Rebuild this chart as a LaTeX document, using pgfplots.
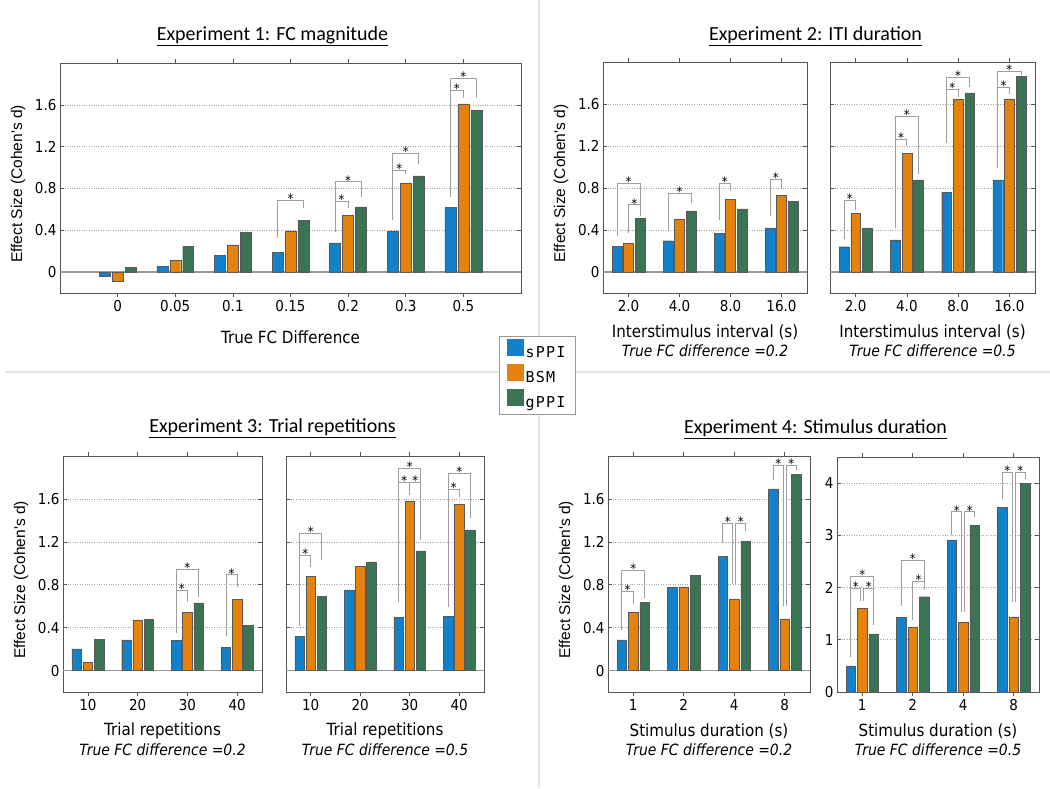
\documentclass[border=0pt]{standalone}
\usepackage{fontspec}
\usepackage{pgfplots}
\pgfplotsset{compat=1.18}
\newfontfamily\tickfont[FakeStretch=0.9]{DejaVu Sans}
\newfontfamily\titlefont{Carlito}
\newfontfamily\ylabfont{Liberation Sans}
\newfontfamily\legfont[LetterSpace=8]{DejaVu Sans Mono}
\definecolor{cB}{HTML}{1380CB}
\definecolor{cO}{HTML}{E5820E}
\definecolor{cG}{HTML}{3B7355}
\definecolor{frm}{HTML}{555555}
\tikzset{
  brk/.style={draw=gray!75, line width=0.8pt},
  star/.style={anchor=base, yshift=-3.2pt, inner sep=0pt, font={\tickfont\fontsize{13}{13}\selectfont}},
  subt/.style={anchor=center, font={\tickfont\fontsize{15.5}{18}\selectfont\itshape}},
}
\newcommand{\br}[5]{\draw[brk] (axis cs:#1,#2) -- (axis cs:#1,#5) -- node[star]{*} (axis cs:#3,#5) -- (axis cs:#3,#4);}
\newcommand{\subt}[1]{\node[subt] at (axis description cs:0.5,0) [yshift=-58pt] {True FC difference =#1};}
\pgfplotsset{
  panel/.style={
    scale only axis, clip=false, anchor=south west,
    ybar, bar width=0.19,
    axis line style={frm, line width=0.7pt},
    every tick/.style={frm, line width=0.6pt},
    major tick length=4pt,
    ymajorgrids, major grid style={dotted, gray!70, line width=0.6pt},
    ymin=-0.2, ymax=2, ytick={0,0.4,0.8,1.2,1.6},
    xmin=0.5, xmax=4.5, xtick={1,2,3,4},
    ticklabel style={font={\tickfont\fontsize{15}{17}\selectfont}},
    /pgf/number format/assume math mode=true,
    extra y ticks={0}, extra y tick labels={},
    extra y tick style={grid=major, major grid style={solid, gray!80, line width=1.3pt}, major tick length=0pt},
    every axis x label/.style={at={(axis description cs:0.5,0)}, anchor=center, yshift=-39pt, font={\tickfont\fontsize{16.8}{20}\selectfont}},
    every axis y label/.style={at={(axis description cs:0,0.5)}, anchor=center, xshift=-42pt, yshift=-6pt, rotate=90, font={\ylabfont\fontsize{15.5}{18}\selectfont}},
  },
  sppi/.style={fill=cB, draw=black!65, line width=0.4pt, bar shift=-0.225},
  bsm/.style={fill=cO, draw=black!65, line width=0.4pt, bar shift=0},
  gppi/.style={fill=cG, draw=black!65, line width=0.4pt, bar shift=0.225},
}
\begin{document}
\begin{tikzpicture}
\path[use as bounding box] (0pt,0pt) rectangle (1050pt,-788pt);
\draw[gray!20, line width=1.5pt] (5pt,-372pt) -- (1050pt,-372pt);
\draw[gray!20, line width=1.5pt] (539pt,0pt) -- (539pt,-788pt);
\node[anchor=base, font={\titlefont\fontsize{20}{24}\selectfont}] at (272.5pt,-40.7pt) {\underline{Experiment 1: FC magnitude}};
\node[anchor=base, font={\titlefont\fontsize{20}{24}\selectfont}] at (815.5pt,-40.5pt) {\underline{Experiment 2: ITI duration}};
\node[anchor=base, font={\titlefont\fontsize{20}{24}\selectfont}] at (272.5pt,-432.7pt) {\underline{Experiment 3: Trial repetitions}};
\node[anchor=base, font={\titlefont\fontsize{20}{24}\selectfont}] at (815.5pt,-433.3pt) {\underline{Experiment 4: Stimulus duration}};

% Experiment 1
\begin{axis}[panel, at={(60pt,-293pt)}, width=461pt, height=230pt,
  xmin=0, xmax=8, xtick={1,2,3,4,5,6,7}, xticklabels={0,0.05,0.1,0.15,0.2,0.3,0.5},
  xlabel={True FC Difference}, xlabel style={yshift=-5pt}, ylabel={Effect Size (Cohen's d)},
  legend style={at={(axis description cs:0.952,-0.187)}, anchor=north west, draw=gray!80, fill=white,
    font={\legfont\fontsize{15}{17}\selectfont}, inner xsep=8pt, inner ysep=3pt, row sep=3pt,
    /tikz/every even column/.append style={column sep=1pt}},
  legend cell align=left,
  legend image code/.code={\fill[#1,draw=none] (0pt,-3pt) rectangle (16.6pt,13.6pt);}]
\addplot[sppi] coordinates {(1,-0.035) (2,0.054) (3,0.159) (4,0.19) (5,0.279) (6,0.394) (7,0.619)};
\addplot[bsm] coordinates {(1,-0.083) (2,0.111) (3,0.26) (4,0.394) (5,0.54) (6,0.854) (7,1.61)};
\addplot[gppi] coordinates {(1,0.044) (2,0.244) (3,0.381) (4,0.498) (5,0.625) (6,0.92) (7,1.546)};
\legend{sPPI,BSM,gPPI}
\br{3.775}{0.324}{4.225}{0.61}{0.689}
\br{4.775}{0.387}{5.0}{0.61}{0.68}
\br{4.775}{0.387}{5.225}{0.72}{0.863}
\br{5.775}{0.5}{6.0}{0.94}{0.975}
\br{5.775}{0.5}{6.225}{1.03}{1.133}
\br{6.775}{0.72}{7.0}{1.67}{1.737}
\br{6.775}{0.72}{7.225}{1.67}{1.854}
\end{axis}

% Experiment 2 left
\begin{axis}[panel, at={(603pt,-293pt)}, width=204pt, height=231pt,
  xticklabels={2.0,4.0,8.0,16.0}, xlabel={Interstimulus interval (s)}, ylabel={Effect Size (Cohen's d)}]
\addplot[sppi] coordinates {(1,0.244) (2,0.298) (3,0.365) (4,0.421)};
\addplot[bsm] coordinates {(1,0.276) (2,0.507) (3,0.694) (4,0.729)};
\addplot[gppi] coordinates {(1,0.514) (2,0.583) (3,0.602) (4,0.672)};
\br{0.775}{0.34}{1.225}{0.53}{0.847}
\br{1.0}{0.37}{1.225}{0.62}{0.64}
\br{1.775}{0.40}{2.225}{0.66}{0.745}
\br{2.775}{0.50}{3.0}{0.77}{0.847}
\br{3.775}{0.53}{4.0}{0.8}{0.88}
\subt{0.2}
\end{axis}

% Experiment 2 right
\begin{axis}[panel, at={(830pt,-293pt)}, width=205pt, height=231pt,
  xticklabels={2.0,4.0,8.0,16.0}, yticklabels={}, xlabel={Interstimulus interval (s)}]
\addplot[sppi] coordinates {(1,0.241) (2,0.307) (3,0.757) (4,0.878)};
\addplot[bsm] coordinates {(1,0.558) (2,1.128) (3,1.645) (4,1.65)};
\addplot[gppi] coordinates {(1,0.421) (2,0.878) (3,1.705) (4,1.866)};
\br{0.775}{0.31}{1.0}{0.59}{0.68}
\br{1.775}{0.42}{2.0}{1.2}{1.26}
\br{1.775}{0.42}{2.225}{0.93}{1.48}
\br{2.775}{1.23}{3.0}{1.67}{1.74}
\br{2.775}{1.23}{3.225}{1.76}{1.85}
\br{3.775}{0.99}{4.0}{1.7}{1.76}
\br{3.775}{0.99}{4.225}{1.88}{1.91}
\subt{0.5}
\end{axis}

% Experiment 3 left
\begin{axis}[panel, at={(63pt,-692pt)}, width=199pt, height=236pt,
  xticklabels={10,20,30,40}, xlabel={Trial repetitions}, ylabel={Effect Size (Cohen's d)}]
\addplot[sppi] coordinates {(1,0.203) (2,0.285) (3,0.279) (4,0.216)};
\addplot[bsm] coordinates {(1,0.078) (2,0.473) (3,0.542) (4,0.661)};
\addplot[gppi] coordinates {(1,0.288) (2,0.476) (3,0.632) (4,0.42)};
\br{2.775}{0.354}{3.0}{0.636}{0.745}
\br{2.775}{0.354}{3.225}{0.69}{0.942}
\br{3.775}{0.32}{4.0}{0.776}{0.892}
\subt{0.2}
\end{axis}

% Experiment 3 right
\begin{axis}[panel, at={(286pt,-692pt)}, width=198pt, height=236pt,
  xticklabels={10,20,30,40}, yticklabels={}, xlabel={Trial repetitions}]
\addplot[sppi] coordinates {(1,0.319) (2,0.751) (3,0.495) (4,0.507)};
\addplot[bsm] coordinates {(1,0.877) (2,0.974) (3,1.575) (4,1.55)};
\addplot[gppi] coordinates {(1,0.689) (2,1.014) (3,1.115) (4,1.312)};
\br{0.775}{0.416}{1.0}{0.964}{1.074}
\br{0.775}{0.416}{1.225}{1.027}{1.277}
\br{2.775}{0.636}{3.0}{1.64}{1.753}
\br{3.0}{1.64}{3.225}{1.215}{1.753}
\br{2.775}{0.636}{3.225}{1.215}{1.882}
\br{3.775}{0.59}{4.0}{1.62}{1.69}
\br{3.775}{0.59}{4.225}{1.42}{1.84}
\subt{0.5}
\end{axis}

% Experiment 4 left
\begin{axis}[panel, at={(608pt,-692pt)}, width=202pt, height=236pt,
  xticklabels={1,2,4,8}, xlabel={Stimulus duration (s)}, ylabel={Effect Size (Cohen's d)}]
\addplot[sppi] coordinates {(1,0.286) (2,0.774) (3,1.062) (4,1.693)};
\addplot[bsm] coordinates {(1,0.541) (2,0.78) (3,0.668) (4,0.481)};
\addplot[gppi] coordinates {(1,0.634) (2,0.888) (3,1.205) (4,1.83)};
\br{0.775}{0.38}{1.0}{0.62}{0.736}
\br{0.775}{0.38}{1.225}{0.674}{0.932}
\br{2.775}{1.19}{2.97}{0.81}{1.373}
\br{3.03}{0.81}{3.225}{1.30}{1.373}
\br{3.775}{1.78}{3.97}{0.6}{1.917}
\br{4.03}{0.6}{4.225}{1.87}{1.917}
\subt{0.2}
\end{axis}

% Experiment 4 right
\begin{axis}[panel, at={(837pt,-692pt)}, width=202pt, height=235pt,
  ymin=0, ymax=4.5, ytick={0,1,2,3,4}, extra y ticks={},
  xticklabels={1,2,4,8}, xlabel={Stimulus duration (s)}]
\addplot[sppi] coordinates {(1,0.502) (2,1.424) (3,2.912) (4,3.535)};
\addplot[bsm] coordinates {(1,1.596) (2,1.24) (3,1.335) (4,1.437)};
\addplot[gppi] coordinates {(1,1.113) (2,1.825) (3,3.185) (4,4.0)};
\br{0.775}{0.68}{1.225}{1.28}{2.22}
\br{0.775}{0.68}{0.97}{1.75}{1.98}
\br{1.03}{1.75}{1.225}{1.28}{1.98}
\br{1.775}{1.65}{2.225}{1.96}{2.52}
\br{2.0}{1.38}{2.225}{1.96}{2.12}
\br{2.775}{3.0}{2.97}{1.54}{3.45}
\br{3.03}{1.54}{3.225}{3.36}{3.45}
\br{3.775}{3.7}{3.97}{1.73}{4.21}
\br{4.03}{1.73}{4.225}{4.08}{4.21}
\subt{0.5}
\end{axis}
\end{tikzpicture}
\end{document}
